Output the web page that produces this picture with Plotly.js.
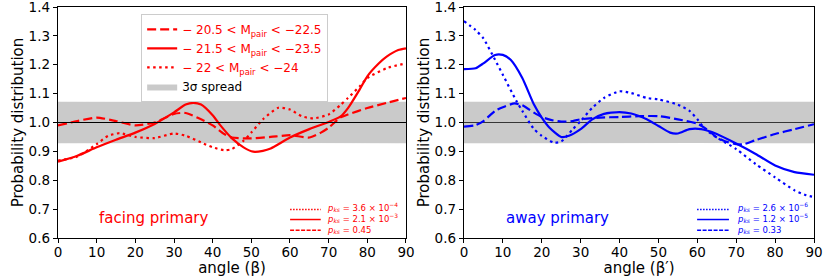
<!DOCTYPE html>
<html><head><meta charset="utf-8">
<script src="https://cdn.plot.ly/plotly-3.0.1.min.js"></script>
<style>html,body{margin:0;padding:0;background:#fff}#plot{width:830px;height:277px}</style>
</head><body><div id="plot"></div>
<script>
// ---- Data ----
const xTicks = [0, 10, 20, 30, 40, 50, 60, 70, 80, 90];
const yTicks = [0.6, 0.7, 0.8, 0.9, 1.0, 1.1, 1.2, 1.3, 1.4];
const yTickText = ['0.6', '0.7', '0.8', '0.9', '1.0', '1.1', '1.2', '1.3', '1.4'];

const bandX = [0, 30, 60, 90];
const bandUpper = [1.072, 1.071, 1.071, 1.072];
const bandLower = [0.928, 0.929, 0.929, 0.928];

// Left panel: facing primary
const facDashX = [0,5,10,15,20,25,30,33,37,40,43,45,50,55,60,65,68,70,73,75,80,85,90];
const facDashY = [0.99,1.005,1.017,1.005,0.99,1.0,1.03,1.033,1.011,0.99,0.96,0.948,0.945,0.95,0.956,0.948,0.965,0.982,1.017,1.028,1.05,1.068,1.085];
const facSolidX = [0,5,10,15,20,25,30,33,35,37,40,42,45,48,50.5,53,55,60,65,70,73,75,78,80,83,85,88,90];
const facSolidY = [0.864,0.885,0.914,0.94,0.965,0.995,1.035,1.062,1.068,1.062,1.025,0.99,0.945,0.914,0.899,0.902,0.91,0.948,0.977,1.002,1.02,1.05,1.114,1.16,1.205,1.228,1.251,1.257];
const facDotX = [0,5,10,13,16,20,25,30,33,37,40,43,45,48,50,53,57,60,63,66,70,73,75,78,80,85,90];
const facDotY = [0.868,0.882,0.925,0.954,0.963,0.95,0.946,0.962,0.954,0.931,0.914,0.904,0.908,0.937,0.965,1.011,1.051,1.045,1.022,1.014,1.028,1.06,1.085,1.125,1.154,1.188,1.205];

// Right panel: away primary
const awDashX = [0,3,5,8,10,13,15,18,20,23,25,28,30,35,40,45,50,55,60,63,65,68,70,72,75,80,85,90];
const awDashY = [0.986,0.991,1.005,1.04,1.053,1.066,1.06,1.034,1.019,1.007,1.003,1.005,1.011,1.017,1.019,1.022,1.022,1.011,0.996,0.971,0.948,0.931,0.925,0.925,0.939,0.96,0.977,0.994];
const awSolidX = [0,3,5,8,10,12,15,18,20,22,25,27,30,33,36,40,43,47,50,53,55,58,61,65,70,75,80,85,90];
const awSolidY = [1.185,1.188,1.205,1.234,1.234,1.217,1.154,1.062,1.017,0.982,0.95,0.954,0.977,1.011,1.03,1.036,1.031,1.011,0.988,0.965,0.962,0.977,0.977,0.96,0.927,0.891,0.851,0.828,0.819];
const awDotX = [0,3,5,8,10,13.5,15,18,20,23,25,28,30,33,36,40,43,47,50,55,58,60,62,65,70,75,80,85,88,90];
const awDotY = [1.351,1.32,1.291,1.217,1.165,1.074,1.04,0.977,0.954,0.931,0.934,0.977,1.005,1.051,1.085,1.108,1.102,1.085,1.08,1.062,1.04,1.011,0.977,0.948,0.908,0.856,0.81,0.765,0.748,0.742];

const seriesNames = ['\u2212 20.5 < M<sub>pair</sub> < \u221222.5', '\u2212 21.5 < M<sub>pair</sub> < \u221223.5', '\u2212 22 < M<sub>pair</sub> < \u221224'];
const bandName = '<span style="color:black">3\u03c3 spread</span>';
const facKs = ['<i>p<sub>ks</sub></i> = 3.6 \u00d7 10<sup>\u22124</sup>', '<i>p<sub>ks</sub></i> = 2.1 \u00d7 10<sup>\u22123</sup>', '<i>p<sub>ks</sub></i> = 0.45'];
const awKs = ['<i>p<sub>ks</sub></i> = 2.6 \u00d7 10<sup>\u22126</sup>', '<i>p<sub>ks</sub></i> = 1.2 \u00d7 10<sup>\u22125</sup>', '<i>p<sub>ks</sub></i> = 0.33'];
const panelLabels = ['facing primary', 'away primary'];

// ---- Styles ----
const RED = '#ff0000', BLUE = '#0000ff', BAND = 'rgba(128,128,128,0.42)';
const DASH = '9px,4px', DOT = '2.5px,3.5px';
const KEYDASH = ['1.5px,1.5px', 'solid', '4px,1.5px'];
const KEYW = 1.5;
const LW = 2.2;
const FONT = 'DejaVu Sans, sans-serif';

function band(xa, ya, show) {
  return {x: bandX.concat(bandX.slice().reverse()), y: bandUpper.concat(bandLower.slice().reverse()),
    xaxis: xa, yaxis: ya, type: 'scatter', mode: 'lines', fill: 'toself', fillcolor: BAND,
    line: {width: 0, color: BAND}, name: bandName, showlegend: show, legendrank: 1004, hoverinfo: 'skip'};
}
function line(x, y, xa, ya, color, dash, name, rank, show) {
  return {x: x, y: y, xaxis: xa, yaxis: ya, type: 'scatter', mode: 'lines',
    line: {color: color, width: LW, dash: dash, shape: 'spline', smoothing: 0.6},
    name: name, legendrank: rank, showlegend: show};
}

const traces = [
  band('x', 'y', true),
  band('x2', 'y2', false),
  line(facDashX, facDashY, 'x', 'y', RED, DASH, seriesNames[0], 1001, true),
  line(facSolidX, facSolidY, 'x', 'y', RED, 'solid', seriesNames[1], 1002, true),
  line(facDotX, facDotY, 'x', 'y', RED, DOT, seriesNames[2], 1003, true),
  line(awDotX, awDotY, 'x2', 'y2', BLUE, DOT, awKs[0], 1, false),
  line(awSolidX, awSolidY, 'x2', 'y2', BLUE, 'solid', awKs[1], 2, false),
  line(awDashX, awDashY, 'x2', 'y2', BLUE, DASH, awKs[2], 3, false)
];

function xax(dom, title, anchor) {
  return {domain: dom, range: [0, 90], anchor: anchor, tickmode: 'array', tickvals: xTicks,
    ticks: 'outside', ticklen: 4, tickwidth: 1, tickcolor: '#000', showgrid: false, zeroline: false,
    showline: true, linecolor: '#000', linewidth: 1.2, mirror: true, ticklabeloverflow: 'allow', ticklabelstandoff: -2,
    tickfont: {family: FONT, size: 13.5, color: '#000'},
    title: {text: title, font: {family: FONT, size: 15, color: '#000'}, standoff: 0}};
}
function yax(anchor) {
  return {domain: [0, 1], range: [0.6, 1.4], anchor: anchor, tickmode: 'array', tickvals: yTicks, ticktext: yTickText,
    ticks: 'outside', ticklen: 4, tickwidth: 1, tickcolor: '#000', showgrid: false, zeroline: false,
    showline: true, linecolor: '#000', linewidth: 1.2, mirror: true, ticklabeloverflow: 'allow',
    tickfont: {family: FONT, size: 13.5, color: '#000'},
    title: {text: 'Probability distribution', font: {family: FONT, size: 15, color: '#000'}, standoff: 1}};
}

// p_ks key (small key in the lower right of each panel)
const keyRowY = [0.123, 0.080, 0.034];
const shapes = [
  {type: 'line', xref: 'x domain', yref: 'y', x0: 0, x1: 1, y0: 1, y1: 1, line: {color: '#000', width: 1.2}, layer: 'above'},
  {type: 'line', xref: 'x2 domain', yref: 'y2', x0: 0, x1: 1, y0: 1, y1: 1, line: {color: '#000', width: 1.2}, layer: 'below'}
];
const annotations = [
  {xref: 'x domain', yref: 'y domain', x: 0.112, y: 0.086, xanchor: 'left', yanchor: 'middle', showarrow: false,
    text: panelLabels[0], font: {family: FONT, size: 15, color: RED}},
  {xref: 'x2 domain', yref: 'y2 domain', x: 0.114, y: 0.086, xanchor: 'left', yanchor: 'middle', showarrow: false,
    text: panelLabels[1], font: {family: FONT, size: 15, color: BLUE}}
];
[[facKs, 'x', 'y', RED, 0.667, 0.755, 0.768], [awKs, 'x2', 'y2', BLUE, 0.666, 0.757, 0.774]].forEach(function (p) {
  for (let i = 0; i < 3; i++) {
    shapes.push({type: 'line', xref: p[1] + ' domain', yref: p[2] + ' domain', x0: p[4], x1: p[5], y0: keyRowY[i], y1: keyRowY[i],
      layer: 'above', line: {color: p[3], width: KEYW, dash: KEYDASH[i]}});
  }
  annotations.push({xref: p[1] + ' domain', yref: p[2] + ' domain', x: p[6], y: 0.088, xanchor: 'left', yanchor: 'middle',
    align: 'left', showarrow: false, text: p[0].join('<br>'), font: {family: FONT, size: 8.5, color: p[3]}});
});

const layout = {
  width: 830, height: 277,
  margin: {l: 58, r: 16, t: 7, b: 39},
  paper_bgcolor: '#fff', plot_bgcolor: '#fff',
  font: {family: FONT},
  xaxis: xax([0, 0.4603], 'angle (\u03b2)', 'y'),
  yaxis: yax('x'),
  xaxis2: xax([0.537, 1], 'angle (\u03b2\u2032)', 'y2'),
  yaxis2: yax('x2'),
  showlegend: true,
  legend: {x: 0.11, y: 0.97, xanchor: 'left', yanchor: 'top', bgcolor: 'rgba(255,255,255,0.9)',
    bordercolor: '#cccccc', borderwidth: 1, font: {family: FONT, size: 12, color: RED}, tracegroupgap: 0},
  shapes: shapes,
  annotations: annotations
};

Plotly.newPlot('plot', traces, layout, {staticPlot: true, displayModeBar: false});
</script></body></html>
